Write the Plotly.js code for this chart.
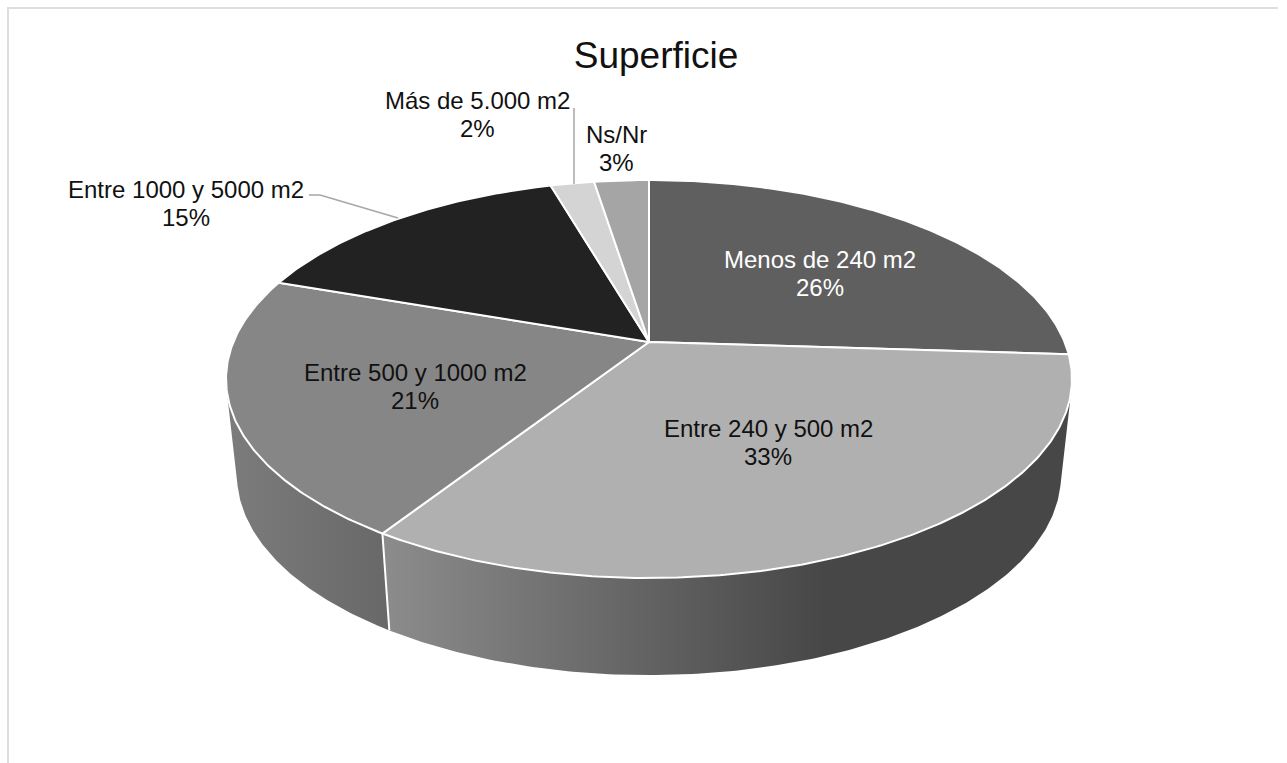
<!DOCTYPE html>
<html>
<head>
<meta charset="utf-8">
<script src="https://cdn.plot.ly/plotly-3.0.1.min.js"></script>
<style>html,body{margin:0;padding:0;background:#fff}#chart{width:1287px;height:763px}</style>
</head>
<body>
<div id="chart"></div>
<script>
// ---- data ----
const chartTitle = 'Superficie';
const categories = ['Menos de 240 m2', 'Entre 240 y 500 m2', 'Entre 500 y 1000 m2', 'Entre 1000 y 5000 m2', 'Más de 5.000 m2', 'Ns/Nr'];
const values = [26, 33.1, 21.2, 15.2, 2, 2.5];
// ---- style ----
const topColors = ['#5f5f5f', '#b0b0b0', '#868686', '#222222', '#d4d4d4', '#a5a5a5'];
const labelColors = ['#ffffff', '#111111', '#111111', '#111111', '#111111', '#111111'];
const labelCenters = [[820, 259], [768, 428], [415, 372], [186, 189], [477, 100], [616, 134]];
const leaders = [null, null, null, [[309, 195], [320, 195], [398, 218]], [[574, 108], [574, 184]], null];
const labelSize = 24, lineGap = 28.5;
// ---- projection of the tilted disc (perspective) ----
const b = 0.186;
const topPlane = {cx: 649, cy: 342, a: 415.6, c: 192.1};
const lowPlane = {cx: 649, cy: 438, a: 404.8, c: 193};
function project(pl, pct) {
  const t = pct / 100 * 2 * Math.PI, u = Math.sin(t), v = -Math.cos(t), d = 1 - b * v;
  return [pl.cx + pl.a * u / d, pl.cy + pl.c * v / d];
}
function arc(pl, p0, p1) {
  const n = Math.max(2, Math.ceil(Math.abs(p1 - p0) * 6)), pts = [];
  for (let i = 0; i <= n; i++) pts.push(project(pl, p0 + (p1 - p0) * i / n));
  return pts;
}
function support(pl, p0, p1, nx, ny) {
  let best = p0, bv = -Infinity;
  for (let p = p0; p <= p1; p += 0.02) {
    const q = project(pl, p), s = q[0] * nx + q[1] * ny;
    if (s > bv) { bv = s; best = p; }
  }
  return best;
}
// tangent (silhouette) between upper and lower rim on one side
function tangent(sign, p0, p1) {
  let best = null, err = Infinity;
  for (let t = -0.4; t <= 0.4; t += 0.002) {
    const pa = support(topPlane, p0, p1, sign, t), pb = support(lowPlane, p0, p1, sign, t);
    const A = project(topPlane, pa), B = project(lowPlane, pb);
    const e = Math.abs((A[0] - B[0]) * sign + (A[1] - B[1]) * t);
    if (e < err) { err = e; best = [pa, pb]; }
  }
  return best;
}
const rightT = tangent(1, 20, 40), leftT = tangent(-1, 60, 80);

const total = values.reduce((s, v) => s + v, 0);
const shares = values.map(v => v / total * 100);
const edges = [0];
shares.forEach(s => edges.push(edges[edges.length - 1] + s));

const traces = [];
function poly(pts, extra) {
  traces.push(Object.assign({
    type: 'scatter', mode: 'lines', x: pts.map(p => p[0]), y: pts.map(p => p[1]),
    fill: 'toself', line: {width: 0, color: 'rgba(0,0,0,0)'}, hoverinfo: 'skip', showlegend: false
  }, extra));
}
// side walls (second and third slices are the visible ones)
const wallA = arc(topPlane, rightT[0], edges[2]).concat(arc(lowPlane, edges[2], rightT[1]));
poly(wallA, {fillgradient: {type: 'horizontal', start: 383, stop: 1072,
  colorscale: [[0, '#8c8c8c'], [0.64, '#474747'], [1, '#474747']]}});
const wallB = arc(topPlane, edges[2], leftT[0]).concat(arc(lowPlane, leftT[1], edges[2]));
poly(wallB, {fillgradient: {type: 'horizontal', start: 226, stop: 390,
  colorscale: [[0, '#7c7c7c'], [1, '#686868']]}});
// white divider on the wall
const dv = [project(topPlane, edges[2]), project(lowPlane, edges[2])];
traces.push({type: 'scatter', mode: 'lines', x: dv.map(p => p[0]), y: dv.map(p => p[1]),
  line: {color: '#ffffff', width: 2}, hoverinfo: 'skip', showlegend: false});
// top face slices
categories.forEach((c, i) => {
  const pts = [[topPlane.cx, topPlane.cy]].concat(arc(topPlane, edges[i], edges[i + 1]));
  pts.push([topPlane.cx, topPlane.cy]);
  traces.push({type: 'scatter', mode: 'lines', x: pts.map(p => p[0]), y: pts.map(p => p[1]),
    fill: 'toself', fillcolor: topColors[i], line: {color: '#ffffff', width: 2},
    name: c, hoverinfo: 'name', showlegend: false});
});
// leader lines
leaders.forEach(l => {
  if (l) traces.push({type: 'scatter', mode: 'lines', x: l.map(p => p[0]), y: l.map(p => p[1]),
    line: {color: '#a6a6a6', width: 1.5}, hoverinfo: 'skip', showlegend: false});
});
// labels: name and percentage
const annotations = [];
categories.forEach((c, i) => {
  [c, Math.round(shares[i]) + '%'].forEach((txt, k) => {
    annotations.push({xref: 'x', yref: 'y', x: labelCenters[i][0], y: labelCenters[i][1] + k * lineGap,
      text: txt, showarrow: false, xanchor: 'center', yanchor: 'middle',
      font: {family: '"Liberation Sans", Arial, sans-serif', size: labelSize, color: labelColors[i]}});
  });
});
const frame = {type: 'path', xref: 'x', yref: 'y', path: 'M 8 763 L 8 8 L 1278 8', line: {color: '#dedede', width: 2}};
const layout = {
  width: 1287, height: 763, margin: {l: 0, r: 0, t: 0, b: 0},
  paper_bgcolor: '#ffffff', plot_bgcolor: '#ffffff', showlegend: false,
  title: {text: chartTitle, x: 656 / 1287, xanchor: 'center', xref: 'paper', y: 1 - 55 / 763, yanchor: 'middle', yref: 'paper',
    font: {family: '"Liberation Sans", Arial, sans-serif', size: 37, color: '#111111'}},
  xaxis: {range: [0, 1287], visible: false, fixedrange: true},
  yaxis: {range: [763, 0], visible: false, fixedrange: true},
  shapes: [frame], annotations: annotations
};
Plotly.newPlot('chart', traces, layout, {displayModeBar: false, staticPlot: true});
</script>
</body>
</html>
